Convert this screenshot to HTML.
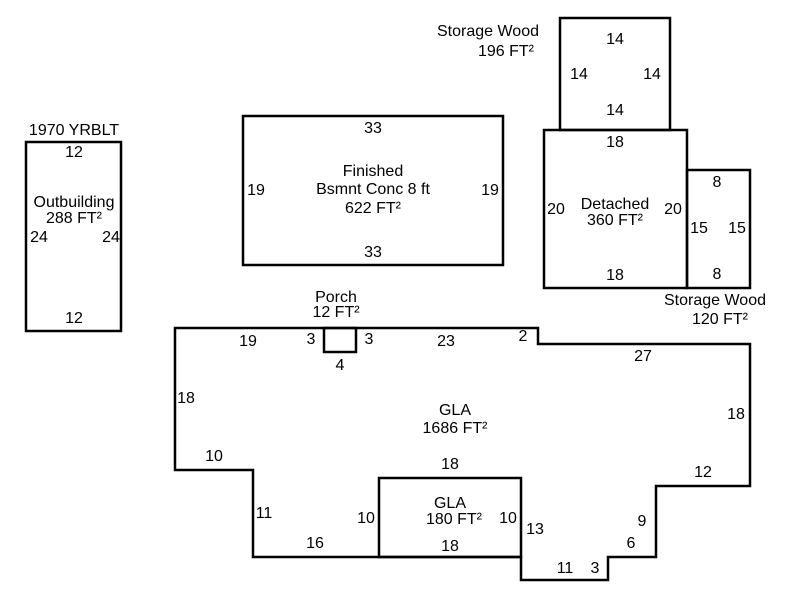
<!DOCTYPE html>
<html><head><style>body{margin:0;background:#fff}svg{display:block}text{font-family:"Liberation Sans",sans-serif;font-size:16px;fill:#000;text-anchor:middle}</style></head><body>
<svg width="800" height="600" viewBox="0 0 800 600">
<g fill="none" stroke="#000" stroke-width="2.5">
<rect x="26" y="142" width="95" height="189"/>
<rect x="243" y="116" width="260" height="149"/>
<rect x="560" y="18" width="110" height="112"/>
<rect x="544" y="130" width="143" height="158"/>
<rect x="687" y="170" width="63" height="118"/>
<polygon points="175,328 538,328 538,344 750,344 750,486 656,486 656,557 608,557 608,580 521,580 521,557 253,557 253,470 175,470"/>
<rect x="324" y="328" width="32" height="24"/>
<rect x="379" y="478" width="142" height="79"/>
</g>
<text x="74" y="135">1970 YRBLT</text>
<text x="74" y="157">12</text>
<text x="74" y="207">Outbuilding</text>
<text x="74" y="223">288 FT²</text>
<text x="39" y="242">24</text>
<text x="111" y="242">24</text>
<text x="74" y="323">12</text>
<text x="373" y="133">33</text>
<text x="373" y="176">Finished</text>
<text x="373" y="194">Bsmnt Conc 8 ft</text>
<text x="373" y="213">622 FT²</text>
<text x="256" y="195">19</text>
<text x="490" y="195">19</text>
<text x="373" y="257">33</text>
<text x="488" y="36">Storage Wood</text>
<text x="506" y="56">196 FT²</text>
<text x="615" y="44">14</text>
<text x="579" y="79">14</text>
<text x="652" y="79">14</text>
<text x="615" y="115">14</text>
<text x="615" y="147">18</text>
<text x="615" y="209">Detached</text>
<text x="615" y="225">360 FT²</text>
<text x="556" y="214">20</text>
<text x="673" y="214">20</text>
<text x="615" y="280">18</text>
<text x="717" y="187">8</text>
<text x="699" y="233">15</text>
<text x="737" y="233">15</text>
<text x="717" y="279">8</text>
<text x="715" y="305">Storage Wood</text>
<text x="720" y="324">120 FT²</text>
<text x="336" y="302">Porch</text>
<text x="336" y="317">12 FT²</text>
<text x="311" y="344">3</text>
<text x="369" y="344">3</text>
<text x="340" y="370">4</text>
<text x="248" y="346">19</text>
<text x="446" y="346">23</text>
<text x="523" y="341">2</text>
<text x="643" y="361">27</text>
<text x="186" y="403">18</text>
<text x="736" y="419">18</text>
<text x="455" y="415">GLA</text>
<text x="455" y="433">1686 FT²</text>
<text x="214" y="461">10</text>
<text x="450" y="469">18</text>
<text x="703" y="477">12</text>
<text x="264" y="518">11</text>
<text x="450" y="508">GLA</text>
<text x="454" y="524">180 FT²</text>
<text x="366" y="523">10</text>
<text x="508" y="523">10</text>
<text x="535" y="534">13</text>
<text x="642" y="526">9</text>
<text x="631" y="548">6</text>
<text x="315" y="548">16</text>
<text x="450" y="551">18</text>
<text x="565" y="573">11</text>
<text x="595" y="573">3</text>
</svg>
</body></html>
